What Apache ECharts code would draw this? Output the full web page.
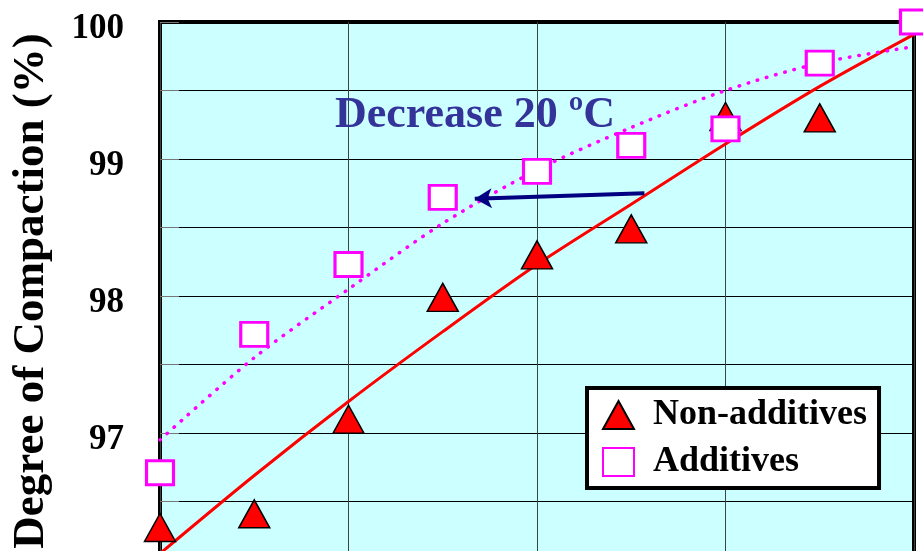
<!DOCTYPE html>
<html>
<head>
<meta charset="utf-8">
<script src="https://cdn.jsdelivr.net/npm/echarts@6/dist/echarts.min.js"></script>
<style>
  html, body { margin: 0; padding: 0; background: #fff; }
  #chart { width: 923px; height: 551px; }
</style>
</head>
<body>
<div id="chart"></div>
<script>
// x positions (grid runs 0..8, gridlines every 2)
var xPos = [0, 1, 2, 3, 4, 5, 6, 7, 8];
// measured points
var nonAdditives = [96.31, 96.41, 97.10, 97.99, 98.30, 98.49, 99.31, 99.30];
var additives = [96.71, 97.72, 98.23, 98.72, 98.91, 99.10, 99.22, 99.70, 100.0];
// trend lines
var nonAddTrend = [96.12, 96.69, 97.23, 97.74, 98.23, 98.67, 99.11, 99.53, 99.91];
var addTrend = [96.95, 97.55, 98.05, 98.53, 98.92, 99.23, 99.50, 99.70, 99.82];
// arrow "Decrease 20 ºC" (from red trend to pink trend)
var arrowFrom = [5.14, 98.75];
var arrowTo = [3.34, 98.71];
var yLabels = [97, 98, 99, 100];

var serif = '"Liberation Serif", "Times New Roman", serif';

function pairs(xs, ys) {
    var out = [];
    for (var i = 0; i < ys.length; i++) {
        out.push([xs[i], ys[i]]);
    }
    return out;
}

var myChart = echarts.init(document.getElementById('chart'));

var option = {
    animation: false,
    backgroundColor: '#ffffff',
    grid: {
        left: 160,
        top: 22,
        width: 754,
        height: 548,
        outerBoundsMode: 'none',
        containLabel: false,
        show: true,
        backgroundColor: '#CCFFFF',
        borderColor: '#000',
        borderWidth: 4
    },
    xAxis: {
        type: 'value',
        min: 0,
        max: 8,
        interval: 2,
        axisLine: {show: false},
        axisTick: {show: false},
        axisLabel: {show: false},
        splitLine: {show: true, lineStyle: {color: '#3a4545', width: 1}}
    },
    yAxis: {
        type: 'value',
        min: 96,
        max: 100,
        interval: 0.5,
        name: 'Degree of Compaction (%)',
        nameLocation: 'middle',
        nameGap: 106,
        nameRotate: 90,
        nameTextStyle: {
            fontFamily: serif,
            fontWeight: 'bold',
            fontSize: 45,
            color: '#000',
            padding: [0, 0, 0, 10]
        },
        axisLine: {show: false},
        axisTick: {show: true, inside: true, length: 19, lineStyle: {color: '#777'}},
        axisLabel: {
            margin: 36,
            fontFamily: serif,
            fontWeight: 'bold',
            fontSize: 35,
            color: '#000',
            verticalAlign: 'top',
            lineHeight: 14,
            formatter: function (v) {
                return yLabels.indexOf(v) >= 0 ? String(v) : '';
            }
        },
        splitLine: {show: true, lineStyle: {color: '#000', width: 1}}
    },
    legend: {
        orient: 'vertical',
        left: 587,
        top: 388,
        data: ['Non-additives', 'Additives'],
        backgroundColor: '#fff',
        borderColor: '#000',
        borderWidth: 4,
        borderRadius: 0,
        padding: [9, 12, 8, 15],
        itemGap: 11,
        itemWidth: 31,
        itemHeight: 28,
        textStyle: {
            fontFamily: serif,
            fontWeight: 'bold',
            fontSize: 36,
            color: '#000',
            padding: [0, 0, 0, 14]
        }
    },
    graphic: [
        {
            type: 'text',
            left: 335,
            top: 94,
            z: 100,
            style: {
                text: 'Decrease 20 ºC',
                fontFamily: serif,
                fontWeight: 'bold',
                fontSize: 44,
                fill: '#333399'
            }
        }
    ],
    series: [
        {
            name: 'Non-additives trend',
            type: 'line',
            data: pairs(xPos, nonAddTrend),
            showSymbol: false,
            smooth: 0.3,
            lineStyle: {color: '#FF0000', width: 3},
            z: 3,
            markLine: {
                silent: true,
                symbol: ['none', 'arrow'],
                symbolSize: [15, 17],
                label: {show: false},
                lineStyle: {color: '#000080', width: 4, type: 'solid'},
                data: [[{coord: arrowFrom}, {coord: arrowTo}]]
            }
        },
        {
            name: 'Additives trend',
            type: 'line',
            data: pairs(xPos, addTrend),
            showSymbol: false,
            smooth: 0.3,
            lineStyle: {color: '#FF00FF', width: 3.5, type: [0.5, 9], cap: 'round'},
            z: 3
        },
        {
            name: 'Non-additives',
            type: 'scatter',
            data: pairs(xPos, nonAdditives),
            symbol: 'triangle',
            symbolSize: [31, 28],
            itemStyle: {color: '#FF0000', borderColor: '#000', borderWidth: 1.5, opacity: 1},
            z: 4
        },
        {
            name: 'Additives',
            type: 'scatter',
            data: pairs(xPos, additives),
            symbol: 'rect',
            symbolSize: [27, 24],
            itemStyle: {color: '#FFFFFF', borderColor: '#FF00FF', borderWidth: 3, opacity: 1},
            z: 5
        }
    ]
};

myChart.setOption(option);
</script>
</body>
</html>
